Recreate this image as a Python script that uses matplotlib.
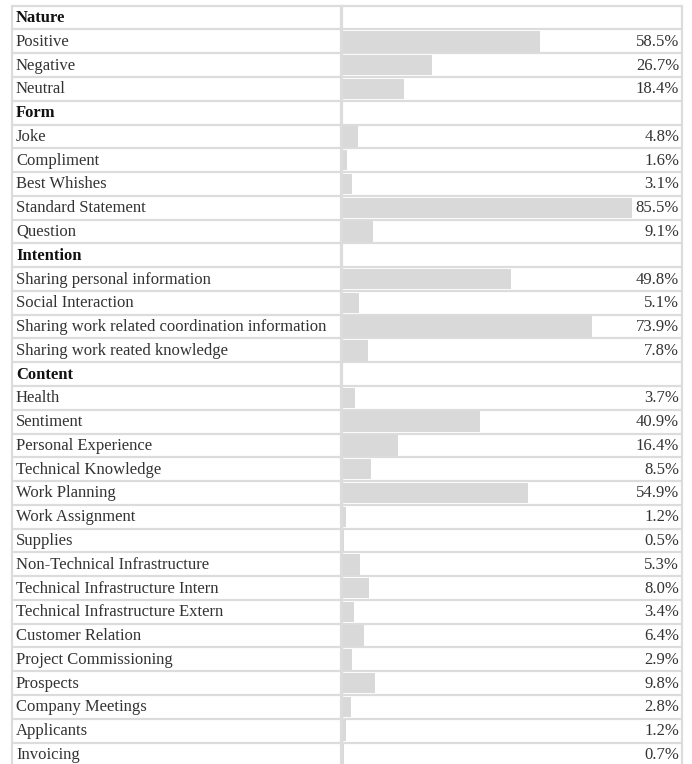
import matplotlib
matplotlib.use("Agg")
import matplotlib.pyplot as plt

# -------- données --------
groups = ["Nature", "Form", "Intention", "Content"]

nature_labels = ["Positive", "Negative", "Neutral"]
nature_values = [58.5, 26.7, 18.4]

form_labels = ["Joke", "Compliment", "Best Whishes", "Standard Statement", "Question"]
form_values = [4.8, 1.6, 3.1, 85.5, 9.1]

intention_labels = [
    "Sharing personal information",
    "Social Interaction",
    "Sharing work related coordination information",
    "Sharing work reated knowledge",
]
intention_values = [49.8, 5.1, 73.9, 7.8]

content_labels = [
    "Health", "Sentiment", "Personal Experience", "Technical Knowledge",
    "Work Planning", "Work Assignment", "Supplies", "Non-Technical Infrastructure",
    "Technical Infrastructure Intern", "Technical Infrastructure Extern",
    "Customer Relation", "Project Commissioning", "Prospects", "Company Meetings",
    "Applicants", "Invoicing",
]
content_values = [3.7, 40.9, 16.4, 8.5, 54.9, 1.2, 0.5, 5.3, 8.0, 3.4, 6.4, 2.9, 9.8, 2.8, 1.2, 0.7]

sections = [
    (groups[0], nature_labels, nature_values),
    (groups[1], form_labels, form_values),
    (groups[2], intention_labels, intention_values),
    (groups[3], content_labels, content_values),
]

# -------- mise en page (pixels) --------
W, H = 692, 764
ROW_H = 23.77
TOP = 5.7
LEFT, MID_L, MID_R, RIGHT = 12, 340.5, 342, 682
BAR_FULL = 338.6  # largeur de 100 %

LINE = "#dcdcdc"
BAR = "#d9d9d9"
TXT = "#333333"
FS = 12

plt.rcParams["font.family"] = ["Liberation Serif", "DejaVu Serif"]

rows = []  # (texte, valeur ou None)
for title, labels, values in sections:
    rows.append((title, None))
    for lab, val in zip(labels, values):
        rows.append((lab, val))
n = len(rows)

fig = plt.figure(figsize=(W / 100, H / 100), dpi=100)
table_h = n * ROW_H
bottom = (H - TOP - table_h) / H

ax_lab = fig.add_axes([LEFT / W, bottom, (MID_L - LEFT) / W, table_h / H])
ax_bar = fig.add_axes([MID_R / W, bottom, BAR_FULL / W, table_h / H])

for ax in (ax_lab, ax_bar):
    ax.set_ylim(n, 0)
    ax.axis("off")
ax_lab.set_xlim(0, 1)
ax_bar.set_xlim(0, 100)
right_x = (RIGHT - MID_R) / BAR_FULL * 100

# barres
idx = [i for i, (_, v) in enumerate(rows) if v is not None]
vals = [rows[i][1] for i in idx]
ax_bar.barh([i + 0.5 for i in idx], vals, height=0.86, color=BAR, linewidth=0)

# lignes du tableau
for k in range(n + 1):
    ax_lab.plot([0, 1], [k, k], color=LINE, lw=1.6, clip_on=False, solid_capstyle="butt")
    ax_bar.plot([0, right_x], [k, k], color=LINE, lw=1.6, clip_on=False, solid_capstyle="butt")
ax_lab.plot([0, 0], [0, n], color=LINE, lw=1.6, clip_on=False)
ax_lab.plot([1, 1], [0, n], color=LINE, lw=1.6, clip_on=False)
ax_bar.plot([0, 0], [0, n], color=LINE, lw=1.6, clip_on=False)
ax_bar.plot([right_x, right_x], [0, n], color=LINE, lw=1.6, clip_on=False)

# textes
for i, (lab, val) in enumerate(rows):
    y = i + 0.52
    if val is None:
        ax_lab.text(4 / (MID_L - LEFT), y, lab, ha="left", va="center",
                    fontsize=FS, fontweight="bold", color="#111111")
    else:
        ax_lab.text(4 / (MID_L - LEFT), y, lab, ha="left", va="center",
                    fontsize=FS, color=TXT)
        ax_bar.text(99.6, y, f"{val:.1f}%", ha="right", va="center",
                    fontsize=FS, color=TXT)

fig.savefig("out.png", dpi=100)
